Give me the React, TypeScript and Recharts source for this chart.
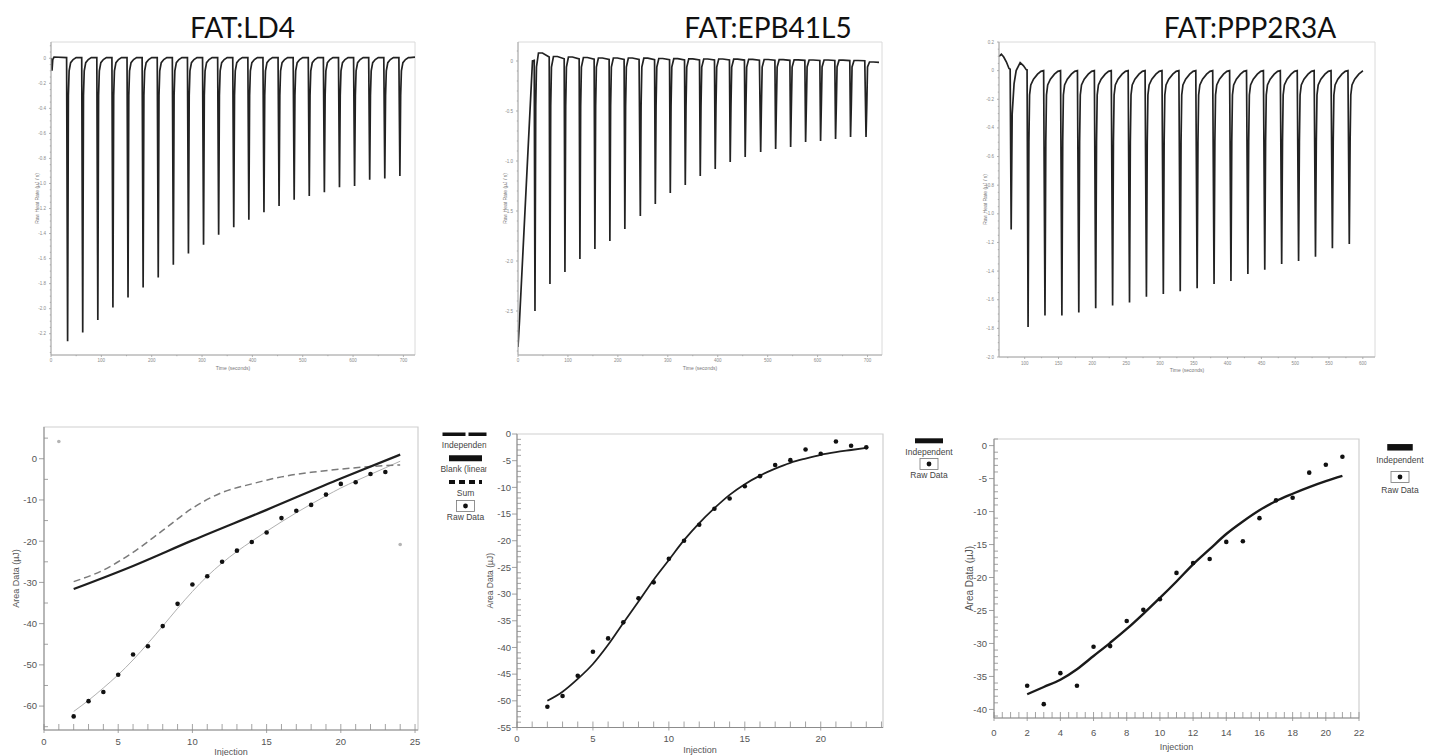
import React from 'react';
import { LineChart, ComposedChart, Line, Scatter, XAxis, YAxis, ReferenceArea, Label } from 'recharts';

// ---------- top row: raw heat rate (µJ/s) against time (s) ----------
const ld4InjTimes = [33, 63, 93, 123, 153, 183, 213, 243, 273, 303, 333, 363, 393, 423, 453, 483, 513, 543, 573, 603, 633, 663, 693];
const ld4Peaks = [-2.26, -2.19, -2.09, -1.99, -1.91, -1.83, -1.75, -1.65, -1.56, -1.49, -1.41, -1.35, -1.29, -1.23, -1.18, -1.13, -1.1, -1.07, -1.03, -1.02, -0.97, -0.96, -0.94];
const ld4Lead: [number, number][] = [[0, 0], [1, -0.02], [2, -0.1], [3.5, -0.01], [6, 0.01], [31, 0.005]];
const ld4Recovery: [number, number][] = [[1.5, -0.3], [3, -0.1], [6, -0.035], [11, -0.01], [17, 0.005], [28, 0.005]];
const ld4Tail: [number, number][] = [[713, 0.005], [723, 0.01]];

const epbInjTimes = [34, 64, 94, 124, 154, 184, 214, 245, 275, 305, 335, 365, 395, 425, 455, 486, 516, 546, 576, 606, 636, 666, 697];
const epbPeaks = [-2.5, -2.23, -2.11, -1.98, -1.88, -1.8, -1.68, -1.55, -1.43, -1.32, -1.24, -1.15, -1.08, -1.01, -0.96, -0.91, -0.88, -0.86, -0.81, -0.8, -0.78, -0.76, -0.76];
const epbLevels = [0.08, 0.045, 0.04, 0.035, 0.03, 0.03, 0.03, 0.028, 0.025, 0.023, 0.022, 0.02, 0.02, 0.018, 0.017, 0.015, 0.013, 0.012, 0.01, 0.01, 0.008, 0.005, -0.01];
const epbLead: [number, number][] = [[0, -2.86], [3, -2.6], [29, 0], [32.5, 0.005]];
const epbTail: [number, number][] = [[723, -0.013]];

const pppInjTimes = [80, 105, 130, 155, 180, 205, 230, 255, 280, 305, 330, 355, 380, 405, 430, 455, 480, 505, 530, 555, 580];
const pppPeaks = [-1.11, -1.79, -1.71, -1.71, -1.69, -1.66, -1.64, -1.62, -1.58, -1.56, -1.54, -1.52, -1.49, -1.47, -1.42, -1.39, -1.35, -1.33, -1.3, -1.24, -1.21];
const pppLead: [number, number][] = [[62, 0.1], [65.5, 0.114], [69, 0.095], [73, 0.06], [76.8, 0.015], [78.5, 0.01]];
const pppFirstRecovery: [number, number][] = [[1.5, -0.3], [4.3, -0.09], [7.4, 0], [13.3, 0.056], [18, 0.035], [22.2, 0.007], [23.5, 0.005]];
const pppRecovery: [number, number][] = [[1.2, -0.5], [2.2, -0.17], [4, -0.1], [8, -0.06], [14, -0.025], [19, -0.005], [23, 0]];
const pppTail: [number, number][] = [[600, 0]];

// ---------- bottom row: integrated area (µJ) per injection ----------
const ld4Injection = [2, 3, 4, 5, 6, 7, 8, 9, 10, 11, 12, 13, 14, 15, 16, 17, 18, 19, 20, 21, 22, 23];
const ld4Area = [-62.5, -58.8, -56.6, -52.4, -47.5, -45.5, -40.6, -35.2, -30.5, -28.5, -25.0, -22.3, -20.2, -17.9, -14.4, -12.6, -11.2, -8.7, -6.1, -5.7, -3.7, -3.2];
const ld4ExcludedX = [1, 24];
const ld4Excluded = [4.2, -20.8];
const ld4FitX = [2, 3, 4, 5, 6, 7, 8, 9, 10, 11, 12, 13, 14, 15, 16, 17, 18, 19, 20, 21, 22, 23, 24];
const ld4Fit = [-61.3, -58.6, -55.6, -52.4, -48.8, -44.8, -40.6, -36.3, -32.2, -28.5, -25.3, -22.5, -20.0, -17.6, -15.3, -13.1, -11.0, -9.0, -7.1, -5.4, -3.8, -2.2, -0.6];
const ld4BlankX = [2, 6, 10, 15, 20, 24];
const ld4Blank = [-31.6, -26.0, -19.8, -12.4, -4.8, 1.0];
const ld4SumX = [2, 4, 6, 8, 10, 12, 14, 16, 18, 20, 22, 24];
const ld4Sum = [-29.8, -27.0, -22.7, -17.4, -12.0, -8.2, -6.1, -4.4, -3.3, -2.5, -1.9, -1.5];

const epbInjection = [2, 3, 4, 5, 6, 7, 8, 9, 10, 11, 12, 13, 14, 15, 16, 17, 18, 19, 20, 21, 22, 23];
const epbArea = [-51.1, -49.1, -45.3, -40.8, -38.3, -35.3, -30.8, -27.8, -23.4, -20.0, -17.0, -14.0, -12.1, -9.8, -7.9, -5.8, -4.9, -2.9, -3.7, -1.4, -2.2, -2.5];
const epbFit = [-50.0, -48.3, -45.9, -43.1, -39.5, -35.4, -31.4, -27.3, -23.6, -19.9, -16.7, -13.9, -11.4, -9.4, -7.8, -6.5, -5.4, -4.6, -3.9, -3.4, -3.0, -2.6];

const pppInjection = [2, 3, 4, 5, 6, 7, 8, 9, 10, 11, 12, 13, 14, 15, 16, 17, 18, 19, 20, 21];
const pppArea = [-36.4, -39.2, -34.5, -36.4, -30.5, -30.4, -26.6, -24.9, -23.3, -19.3, -17.8, -17.2, -14.6, -14.5, -11.0, -8.3, -7.9, -4.1, -2.9, -1.7];
const pppFit = [-37.7, -36.6, -35.5, -33.9, -31.9, -29.9, -27.8, -25.5, -23.1, -20.6, -18.0, -15.7, -13.4, -11.5, -9.8, -8.4, -7.3, -6.3, -5.4, -4.6];

// tick labels
const timeLabels = [0, 100, 200, 300, 400, 500, 600, 700];
const pppTimeLabels = [100, 150, 200, 250, 300, 350, 400, 450, 500, 550, 600];
const ld4RateLabels = [0, -0.2, -0.4, -0.6, -0.8, -1.0, -1.2, -1.4, -1.6, -1.8, -2.0, -2.2];
const epbRateLabels = [0, -0.5, -1.0, -1.5, -2.0, -2.5];
const pppRateLabels = [0.2, 0, -0.2, -0.4, -0.6, -0.8, -1.0, -1.2, -1.4, -1.6, -1.8, -2.0];
const ld4AreaLabels = [0, -10, -20, -30, -40, -50, -60];
const epbAreaLabels = [0, -5, -10, -15, -20, -25, -30, -35, -40, -45, -50, -55];
const pppAreaLabels = [0, -5, -10, -15, -20, -25, -30, -35, -40];
const inj25Labels = [0, 5, 10, 15, 20, 25];
const inj20Labels = [0, 5, 10, 15, 20];
const inj22Labels = [0, 2, 4, 6, 8, 10, 12, 14, 16, 18, 20, 22];

type Pair = [number, number];
type Box = { left: number; top: number; right: number; bottom: number };

const range = (a: number, b: number, s: number) => {
  const out: number[] = [];
  for (let v = a; v <= b + 1e-9; v += s) out.push(Math.round(v * 1000) / 1000);
  return out;
};

const buildTrace = (lead: Pair[], times: number[], peaks: number[], recover: (i: number) => Pair[], tail: Pair[]) => {
  const pts = lead.map(([t, v]) => ({ t, v }));
  times.forEach((t0, i) => {
    pts.push({ t: t0, v: peaks[i] });
    recover(i).forEach(([dt, v]) => pts.push({ t: t0 + dt, v }));
  });
  const end = tail[0][0];
  return pts.filter((p) => p.t < end).concat(tail.map(([t, v]) => ({ t, v })));
};

const ld4Trace = buildTrace(ld4Lead, ld4InjTimes, ld4Peaks, () => ld4Recovery, ld4Tail);
const epbTrace = buildTrace(epbLead, epbInjTimes, epbPeaks, (i) => [
  [1.5, -0.45], [3, -0.06], [7, epbLevels[i]], [15, epbLevels[i]], [28.5, epbLevels[i] / 2],
], epbTail);
const pppTrace = buildTrace(pppLead, pppInjTimes, pppPeaks, (i) => (i === 0 ? pppFirstRecovery : pppRecovery), pppTail);

const pairs = (xs: number[], ys: number[]) => xs.map((x, i) => ({ x, y: ys[i] }));

type TickStyle = {
  majors: number[]; fmt: (v: number) => string; out: number; inner: number;
  minorOut: number; minorIn: number; gap: number; size: number; color: string; stroke: string;
};

const isMajor = (majors: number[], v: number) => majors.some((m) => Math.abs(m - v) < 1e-6);

const xTick = (s: TickStyle) => (p: any) => {
  const v = p.payload.value;
  const major = isMajor(s.majors, v);
  return (
    <g>
      <line x1={p.x} x2={p.x} y1={p.y - (major ? s.inner : s.minorIn)} y2={p.y + (major ? s.out : s.minorOut)} stroke={s.stroke} strokeWidth={0.8} />
      {major && (
        <text x={p.x} y={p.y + s.gap} textAnchor="middle" fontSize={s.size} fill={s.color}>{s.fmt(v)}</text>
      )}
    </g>
  );
};

const yTick = (s: TickStyle) => (p: any) => {
  const v = p.payload.value;
  const major = isMajor(s.majors, v);
  return (
    <g>
      <line y1={p.y} y2={p.y} x1={p.x - (major ? s.out : s.minorOut)} x2={p.x + (major ? s.inner : s.minorIn)} stroke={s.stroke} strokeWidth={0.8} />
      {major && (
        <text x={p.x - s.gap} y={p.y} dy="0.35em" textAnchor="end" fontSize={s.size} fill={s.color}>{s.fmt(v)}</text>
      )}
    </g>
  );
};

const rateFmt = (v: number) => (v === 0 ? '0' : v.toFixed(1));
const intFmt = (v: number) => String(v);

const topTick = { out: 2, inner: 0, minorOut: 1.2, minorIn: 0, size: 4.5, color: '#8a8a8a', stroke: '#a0a0a0' };
const botTick = { size: 9.5, color: '#555', stroke: '#8c8c8c' };

function TracePanel(props: {
  box: Box; data: { t: number; v: number }[]; xDomain: [number, number]; yDomain: [number, number];
  xTicks: number[]; xMajors: number[]; yTicks: number[]; yMajors: number[];
  yLabelOffset: number; xLabelOffset: number; xGap: number;
}) {
  const { box, data, xDomain, yDomain } = props;
  const YW = 45, XH = 30, M = 6;
  const w = box.right - box.left + YW + M;
  const h = box.bottom - box.top + M + XH;
  return (
    <div style={{ position: 'absolute', left: box.left - YW, top: box.top - M }}>
      <LineChart width={w} height={h} data={data} margin={{ top: M, right: M, bottom: 0, left: 0 }}>
        <ReferenceArea x1={xDomain[0]} x2={xDomain[1]} y1={yDomain[0]} y2={yDomain[1]} fill="none" stroke="#dadada" ifOverflow="visible" />
        <XAxis dataKey="t" type="number" domain={xDomain} allowDataOverflow ticks={props.xTicks} interval={0}
          tickSize={0} tickMargin={0} tickLine={false} height={XH} stroke="#a8a8a8"
          tick={xTick({ ...topTick, majors: props.xMajors, fmt: intFmt, gap: props.xGap })}>
          <Label value="Time (seconds)" position="insideBottom" offset={props.xLabelOffset} style={{ fontSize: 5, fill: '#777' }} />
        </XAxis>
        <YAxis type="number" domain={yDomain} allowDataOverflow ticks={props.yTicks} interval={0} width={YW}
          tickSize={0} tickMargin={0} tickLine={false} stroke="#a8a8a8"
          tick={yTick({ ...topTick, majors: props.yMajors, fmt: rateFmt, gap: 5 })}>
          <Label value="Raw Heat Rate (µJ / s)" angle={-90} position="insideLeft" offset={props.yLabelOffset}
            style={{ textAnchor: 'middle', fontSize: 5, fill: '#777' }} />
        </YAxis>
        <Line type="linear" dataKey="v" stroke="#222" strokeWidth={1.7} dot={false} isAnimationActive={false} />
      </LineChart>
    </div>
  );
}

const rawDot = (p: any) => <circle cx={p.cx} cy={p.cy} r={2.3} fill="#111" />;
const greyDot = (p: any) => <circle cx={p.cx} cy={p.cy} r={1.8} fill="#b4b4b4" />;

function AreaPanel(props: {
  box: Box; xDomain: [number, number]; yDomain: [number, number];
  xTicks: number[]; xMajors: number[]; yTicks: number[]; yMajors: number[];
  yLabelOffset: number; xLabelOffset: number; xGap: number; yGap: number; XH: number;
  yLabelSize: number; children: React.ReactNode;
}) {
  const { box, xDomain, yDomain, XH } = props;
  const YW = 42, M = 6;
  const w = box.right - box.left + YW + M;
  const h = box.bottom - box.top + M + XH;
  return (
    <div style={{ position: 'absolute', left: box.left - YW, top: box.top - M }}>
      <ComposedChart width={w} height={h} margin={{ top: M, right: M, bottom: 0, left: 0 }}>
        <ReferenceArea x1={xDomain[0]} x2={xDomain[1]} y1={yDomain[0]} y2={yDomain[1]} fill="none" stroke="#cfcfcf" strokeWidth={1.2} ifOverflow="visible" />
        <XAxis dataKey="x" type="number" domain={xDomain} allowDataOverflow ticks={props.xTicks} interval={0}
          tickSize={0} tickMargin={0} tickLine={false} height={XH} stroke="#8c8c8c"
          tick={xTick({ ...botTick, majors: props.xMajors, fmt: intFmt, gap: props.xGap, out: 3, inner: 6, minorOut: 0, minorIn: 6 })}>
          <Label value="Injection" position="insideBottom" offset={props.xLabelOffset} style={{ fontSize: 9, fill: '#555' }} />
        </XAxis>
        <YAxis type="number" domain={yDomain} allowDataOverflow ticks={props.yTicks} interval={0} width={YW}
          tickSize={0} tickMargin={0} tickLine={false} stroke="#8c8c8c"
          tick={yTick({ ...botTick, majors: props.yMajors, fmt: intFmt, gap: props.yGap, out: 5, inner: 0, minorOut: 0, minorIn: 4 })}>
          <Label value="Area Data (µJ)" angle={-90} position="insideLeft" offset={props.yLabelOffset}
            style={{ textAnchor: 'middle', fontSize: props.yLabelSize, fill: '#555' }} />
        </YAxis>
        {props.children}
      </ComposedChart>
    </div>
  );
}

type LegendItem = { kind: 'solid' | 'dash' | 'raw'; label: string; w?: number; thick?: number; dash?: string };

function LegendBlock({ cx, top, step, gap, items }: { cx: number; top: number; step: number; gap: number; items: LegendItem[] }) {
  return (
    <g>
      {items.map((it, i) => {
        const y = top + i * step;
        return (
          <g key={it.label}>
            {it.kind === 'raw' ? (
              <g>
                <rect x={cx - 9} y={y - 5.5} width={18} height={11} fill="#fff" stroke="#777" strokeWidth={0.8} />
                <circle cx={cx} cy={y} r={2.4} fill="#111" />
              </g>
            ) : (
              <line x1={cx - (it.w || 30) / 2} x2={cx + (it.w || 30) / 2} y1={y} y2={y} stroke="#111"
                strokeWidth={it.thick || 5} strokeDasharray={it.kind === 'dash' ? it.dash : undefined} />
            )}
            <text x={cx} y={y + gap} textAnchor="middle" fontSize={8.5} fill="#444">{it.label}</text>
          </g>
        );
      })}
    </g>
  );
}

const titleStyle = { fontFamily: 'Lato, "Open Sans", sans-serif', fontSize: 28, fill: '#111' };

export default function App() {
  return (
    <div style={{ position: 'absolute', left: 0, top: 0, width: 1438, height: 756, overflow: 'hidden', background: '#fff', fontFamily: '"Liberation Sans", Arial, sans-serif' }}>
      <TracePanel box={{ left: 51, top: 42, right: 415, bottom: 355 }} data={ld4Trace}
        xDomain={[0, 723]} yDomain={[-2.37, 0.13]}
        xTicks={range(0, 700, 50)} xMajors={timeLabels} yTicks={range(-2.35, 0.1, 0.05)} yMajors={ld4RateLabels}
        yLabelOffset={31} xLabelOffset={15.5} xGap={6.6} />
      <TracePanel box={{ left: 518, top: 42, right: 882, bottom: 355 }} data={epbTrace}
        xDomain={[0, 729]} yDomain={[-2.94, 0.19]}
        xTicks={range(0, 700, 50)} xMajors={timeLabels} yTicks={range(-2.9, 0.1, 0.1)} yMajors={epbRateLabels}
        yLabelOffset={32} xLabelOffset={15.5} xGap={6.6} />
      <TracePanel box={{ left: 999, top: 42, right: 1375, bottom: 357 }} data={pppTrace}
        xDomain={[62, 618]} yDomain={[-2.0, 0.2]}
        xTicks={range(75, 600, 25)} xMajors={pppTimeLabels} yTicks={range(-2.0, 0.2, 0.05)} yMajors={pppRateLabels}
        yLabelOffset={31} xLabelOffset={15.2} xGap={8} />

      <AreaPanel box={{ left: 44, top: 427, right: 418, bottom: 730 }} xDomain={[0, 25.2]} yDomain={[-65.8, 7.7]}
        xTicks={range(0, 25, 1)} xMajors={inj25Labels} yTicks={range(-65, 5, 5)} yMajors={ld4AreaLabels}
        yLabelOffset={14} xLabelOffset={5.5} xGap={15} yGap={7} XH={30} yLabelSize={9}>
        <Line data={pairs(ld4FitX, ld4Fit)} type="monotone" dataKey="y" stroke="#b0b0b0" strokeWidth={1} dot={false} isAnimationActive={false} />
        <Line data={pairs(ld4SumX, ld4Sum)} type="monotone" dataKey="y" stroke="#7a7a7a" strokeWidth={1.5} strokeDasharray="7 4" dot={false} isAnimationActive={false} />
        <Line data={pairs(ld4BlankX, ld4Blank)} type="monotone" dataKey="y" stroke="#1e1e1e" strokeWidth={2.2} dot={false} isAnimationActive={false} />
        <Scatter data={pairs(ld4ExcludedX, ld4Excluded)} dataKey="y" shape={greyDot} isAnimationActive={false} />
        <Scatter data={pairs(ld4Injection, ld4Area)} dataKey="y" shape={rawDot} isAnimationActive={false} />
      </AreaPanel>
      <AreaPanel box={{ left: 517, top: 433.5, right: 883, bottom: 727 }} xDomain={[0, 24.1]} yDomain={[-55, 0]}
        xTicks={range(0, 24, 1)} xMajors={inj20Labels} yTicks={range(-55, 0, 1)} yMajors={epbAreaLabels}
        yLabelOffset={14.6} xLabelOffset={5} xGap={14.3} yGap={6} XH={30} yLabelSize={8.5}>
        <Line data={pairs(epbInjection, epbFit)} type="monotone" dataKey="y" stroke="#1e1e1e" strokeWidth={1.8} dot={false} isAnimationActive={false} />
        <Scatter data={pairs(epbInjection, epbArea)} dataKey="y" shape={rawDot} isAnimationActive={false} />
      </AreaPanel>
      <AreaPanel box={{ left: 994, top: 439, right: 1359, bottom: 718 }} xDomain={[0, 22]} yDomain={[-41.3, 1.0]}
        xTicks={range(0, 22, 0.5)} xMajors={inj22Labels} yTicks={range(-41, 1, 1)} yMajors={pppAreaLabels}
        yLabelOffset={17.7} xLabelOffset={2.3} xGap={17.7} yGap={7} XH={34} yLabelSize={10}>
        <Line data={pairs(pppInjection, pppFit)} type="monotone" dataKey="y" stroke="#1a1a1a" strokeWidth={2.4} dot={false} isAnimationActive={false} />
        <Scatter data={pairs(pppInjection, pppArea)} dataKey="y" shape={rawDot} isAnimationActive={false} />
      </AreaPanel>

      <svg width={1438} height={756} style={{ position: 'absolute', left: 0, top: 0, pointerEvents: 'none' }}>
        <defs>
          <clipPath id="legendClip">
            <rect x={430} y={420} width={56.5} height={120} />
          </clipPath>
        </defs>
        <text x={242.5} y={38} textAnchor="middle" style={titleStyle}>FAT:LD4</text>
        <text x={768} y={38} textAnchor="middle" style={titleStyle}>FAT:EPB41L5</text>
        <text x={1250} y={38} textAnchor="middle" style={titleStyle}>FAT:PPP2R3A</text>
        <g clipPath="url(#legendClip)">
          <LegendBlock cx={465.5} top={434.3} step={23.9} gap={13.7} items={[
            { kind: 'dash', label: 'Independent', w: 46, thick: 3.5, dash: '23 3' },
            { kind: 'solid', label: 'Blank (linear)', w: 33, thick: 6 },
            { kind: 'dash', label: 'Sum', w: 33, thick: 4, dash: '6 4' },
            { kind: 'raw', label: 'Raw Data' },
          ]} />
        </g>
        <LegendBlock cx={929} top={440.8} step={23.2} gap={13.8} items={[
          { kind: 'solid', label: 'Independent', w: 28, thick: 5 },
          { kind: 'raw', label: 'Raw Data' },
        ]} />
        <LegendBlock cx={1400} top={447.3} step={29.7} gap={15.5} items={[
          { kind: 'solid', label: 'Independent', w: 25.5, thick: 6.5 },
          { kind: 'raw', label: 'Raw Data' },
        ]} />
      </svg>
    </div>
  );
}
